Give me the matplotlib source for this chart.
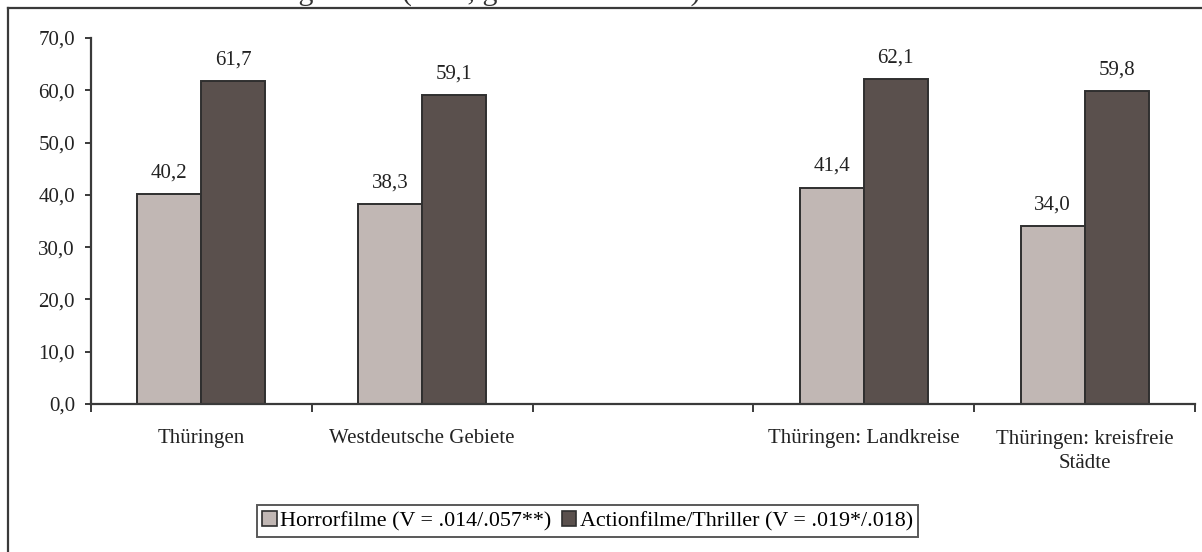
import matplotlib
matplotlib.use("Agg")
import matplotlib.pyplot as plt
from matplotlib.lines import Line2D
from matplotlib.patches import Patch

plt.rcParams['font.family'] = ['Liberation Serif', 'DejaVu Serif']

# data
categories = ['Thüringen', 'Westdeutsche Gebiete', '',
              'Thüringen: Landkreise', 'Thüringen: kreisfreie\nStädte']
horror = [40.2, 38.3, None, 41.4, 34.0]
action = [61.7, 59.1, None, 62.1, 59.8]
series_names = ['Horrorfilme (V = .014/.057**)',
                'Actionfilme/Thriller (V = .019*/.018)']
y_ticks = [0, 10, 20, 30, 40, 50, 60, 70]

light = '#c1b7b4'
dark = '#5a504d'
edge = '#2f2f2f'
axis_col = '#3a3a3a'

W, H = 1202, 552
fig = plt.figure(figsize=(W / 100, H / 100), dpi=100)
ax = fig.add_axes([91 / W, 1 - 404 / H, 1104 / W, 366 / H])

bw = 0.29
for i, (h, a) in enumerate(zip(horror, action)):
    c = i + 0.5
    if h is None:
        continue
    ax.bar(c - bw / 2, h, bw, color=light, edgecolor=edge, linewidth=1.4)
    ax.bar(c + bw / 2, a, bw, color=dark, edgecolor=edge, linewidth=1.4)
    for x, v in ((c - bw / 2, h), (c + bw / 2, a)):
        ax.annotate(f'{v:.1f}'.replace('.', ','), (x, v), xytext=(0, 12),
                    textcoords='offset points', ha='center', va='baseline',
                    fontsize=15, color='#222222')

ax.set_xlim(0, len(categories))
ax.set_ylim(0, 70)
ax.set_yticks(y_ticks)
ax.set_yticklabels([f'{t:.1f}'.replace('.', ',') for t in y_ticks])

# boundaries as major ticks, labels on minor ticks at centers
ax.set_xticks(range(len(categories) + 1))
ax.set_xticklabels([])
ax.set_xticks([i + 0.5 for i in range(len(categories))], minor=True)
ax.set_xticklabels(categories, minor=True, fontsize=15, color='#222222',
                   linespacing=1.35)
ax.tick_params(axis='x', which='major', direction='out', length=5.5,
               width=1.4, color=axis_col)
ax.tick_params(axis='x', which='minor', length=0, pad=18)
ax.tick_params(axis='y', direction='out', length=4.5, width=1.4,
               color=axis_col, labelsize=15, labelcolor='#222222', pad=7)

for s in ('top', 'right'):
    ax.spines[s].set_visible(False)
for s in ('left', 'bottom'):
    ax.spines[s].set_color(axis_col)
    ax.spines[s].set_linewidth(1.6)

# outer frame (cut off at right and bottom)
fig.add_artist(Line2D([8 / W, 8 / W], [0, 1 - 7.5 / H], color=axis_col,
                      linewidth=1.6, transform=fig.transFigure))
fig.add_artist(Line2D([8 / W, 1], [1 - 7.5 / H, 1 - 7.5 / H], color=axis_col,
                      linewidth=1.6, transform=fig.transFigure))

# heading, almost entirely above the picture's top edge
fig.text(10 / W, 1 - 6.5 / H,
         'Filme im letzten Monat gesehen (in %, gewichtete Daten)',
         fontsize=21.5, va='bottom', ha='left', color='#333333')

handles = [Patch(facecolor=light, edgecolor=edge, linewidth=1.2),
           Patch(facecolor=dark, edgecolor=edge, linewidth=1.2)]
leg = fig.legend(handles, series_names, ncol=2, loc='center',
                 bbox_to_anchor=(587.5 / W, 1 - 521 / H), fontsize=15.8,
                 frameon=True, fancybox=False, handlelength=0.65,
                 handleheight=0.65, handletextpad=0.15, columnspacing=0.5,
                 borderpad=0.25, borderaxespad=0)
leg.get_frame().set_edgecolor(edge)
leg.get_frame().set_linewidth(1.4)

fig.savefig('out.png', dpi=100)
